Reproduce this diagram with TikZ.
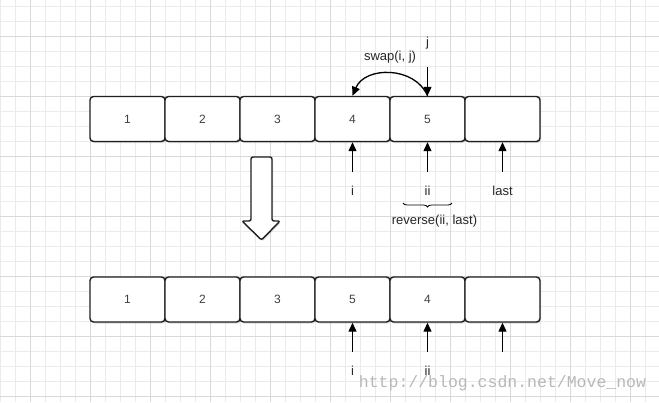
\documentclass[tikz,border=0pt]{standalone}
\usepackage{fontspec}
\setmainfont{Liberation Sans}
\setmonofont{Liberation Mono}
\usetikzlibrary{arrows.meta, shadows, decorations.pathreplacing}

\begin{document}
\begin{tikzpicture}[
    x=1pt, y=-1pt,
    minor/.style={draw=black!8, line width=0.8pt},
    major/.style={draw=black!15, line width=1pt},
    cell/.style={draw=black!88, fill=white, line width=1.4pt, rounded corners=3.5pt,
        minimum width=75pt, minimum height=45pt, inner sep=0pt,
        font=\fontsize{12}{14}\selectfont\color{black!75},
        drop shadow={shadow xshift=1pt, shadow yshift=-1.5pt, opacity=0.3}},
    lbl/.style={inner sep=1pt, font=\fontsize{13}{15}\selectfont\color{black!85}},
    ptr/.style={-{Triangle[length=9pt, width=8pt]}, line width=1.3pt, draw=black},
    brc/.style={decorate, decoration={brace, mirror, amplitude=4pt}, line width=0.8pt},
    bigarrow/.style={draw=black!88, fill=white, line width=1.4pt, rounded corners=2pt,
        drop shadow={shadow xshift=1pt, shadow yshift=-1.5pt, opacity=0.3}},
    wmark/.style={font=\fontsize{16.5}{18}\selectfont\ttfamily, text=black!28}
]
    \useasboundingbox[fill=white] (0,0) rectangle (659,402);

    \foreach \x in {0,15,...,659} \draw[minor] (\x,0) -- (\x,402);
    \foreach \y in {6,21,...,402} \draw[minor] (0,\y) -- (659,\y);
    \foreach \x in {30,90,...,659} \draw[major] (\x,0) -- (\x,402);
    \foreach \y in {36,96,...,402} \draw[major] (0,\y) -- (659,\y);

    \node[cell] (b1) at (127.5, 119) {1};
    \node[cell] (b2) at (202.5, 119) {2};
    \node[cell] (b3) at (277.5, 119) {3};
    \node[cell] (b4) at (352.5, 119) {4};
    \node[cell] (b5) at (427.5, 119) {5};
    \node[cell] (b6) at (502.5, 119) {};

    \node[cell] (c1) at (127.5, 299.5) {1};
    \node[cell] (c2) at (202.5, 299.5) {2};
    \node[cell] (c3) at (277.5, 299.5) {3};
    \node[cell] (c4) at (352.5, 299.5) {5};
    \node[cell] (c5) at (427.5, 299.5) {4};
    \node[cell] (c6) at (502.5, 299.5) {};

    \node[lbl] (swap) at (390,   57)  {swap(i, j)};
    \node[lbl] (j)    at (427.5, 43)  {j};
    \coordinate (jtop) at (427.5, 67);

    \coordinate (pi)    at (352.5, 172);
    \coordinate (pii)   at (427.5, 172);
    \coordinate (plast) at (502.5, 172);
    \node[lbl] (i)    at (352.5, 191) {i};
    \node[lbl] (ii)   at (427.5, 191) {ii};
    \node[lbl] (last) at (502.5, 191) {last};
    \coordinate (bl) at (403, 203);
    \coordinate (br) at (452, 203);
    \node[lbl] (rev)  at (434.5, 221) {reverse(ii, last)};

    \coordinate (qi)    at (352.5, 352);
    \coordinate (qii)   at (427.5, 352);
    \coordinate (qlast) at (502.5, 352);
    \node[lbl] (i2)   at (352.5, 371) {i};
    \node[lbl] (ii2)  at (427.5, 371) {ii};

    \draw[bigarrow] (261.5,240) -- (242,221) -- (251,221) -- (251,157)
        -- (272,157) -- (272,221) -- (280,221) -- cycle;

    \draw[ptr] (jtop) -- (b5.north);
    \draw[ptr] (b5.north) .. controls (415,66) and (365,66) .. (b4.north);

    \draw[ptr] (pi)    -- (b4.south);
    \draw[ptr] (pii)   -- (b5.south);
    \draw[ptr] (plast) -- (b6.south);
    \draw[brc] (bl) -- (br);

    \draw[ptr] (qi)    -- (c4.south);
    \draw[ptr] (qii)   -- (c5.south);
    \draw[ptr] (qlast) -- (c6.south);

    \node[wmark] (url) at (502.5, 383) {http://blog.csdn.net/Move\_now};
\end{tikzpicture}
\end{document}
